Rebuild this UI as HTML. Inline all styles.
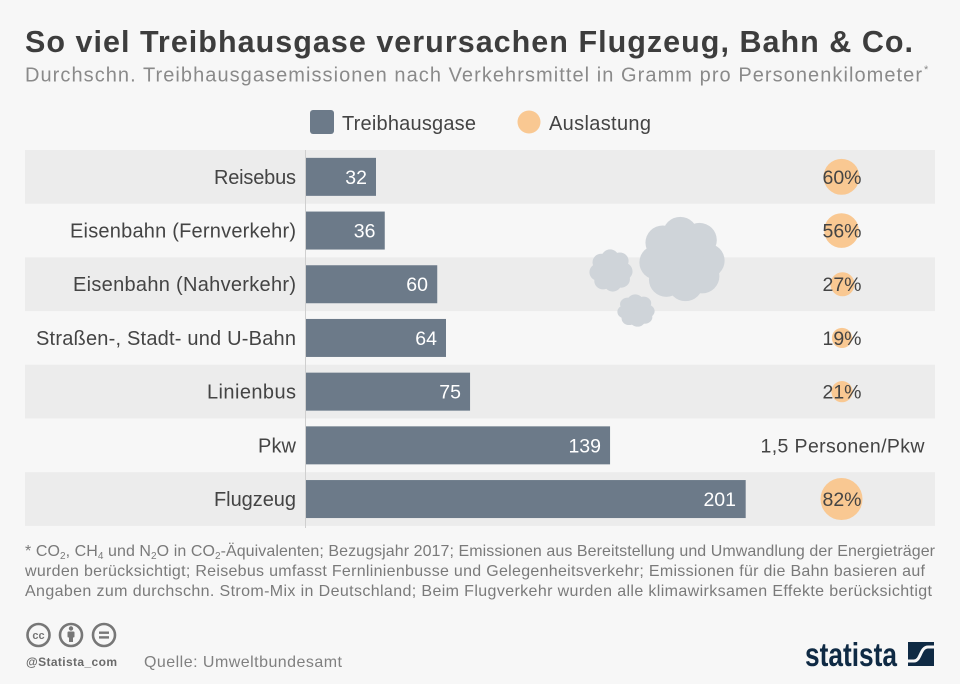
<!DOCTYPE html>
<html>
<head>
<meta charset="utf-8">
<style>
  html,body{margin:0;padding:0;background:#f7f7f7;}
  svg{display:block;}
  text{font-family:"Liberation Sans", Arial, sans-serif;}
</style>
</head>
<body>
<svg width="960" height="684" viewBox="0 0 960 684" xmlns="http://www.w3.org/2000/svg">
  <defs>
    <g id="cloud">
      <circle cx="0" cy="0" r="36"/>
      <circle cx="29" cy="2" r="20"/>
      <circle cx="20" cy="-22" r="20"/>
      <circle cx="-2" cy="-29" r="20"/>
      <circle cx="-22" cy="-19" r="20"/>
      <circle cx="-29" cy="4" r="20"/>
      <circle cx="-18" cy="24" r="20"/>
      <circle cx="4" cy="29" r="20"/>
      <circle cx="23" cy="20" r="20"/>
    </g>
  </defs>
  <rect x="0" y="0" width="960" height="684" fill="#f7f7f7"/>

  <!-- Title -->
  <text x="25" y="52" font-size="30.5" font-weight="bold" fill="#3d3d3d" textLength="888">So viel Treibhausgase verursachen Flugzeug, Bahn &amp; Co.</text>
  <text x="25" y="81.5" font-size="20" fill="#8a8a8a" textLength="897">Durchschn. Treibhausgasemissionen nach Verkehrsmittel in Gramm pro Personenkilometer</text>
  <text x="924" y="73" font-size="11" fill="#8a8a8a">*</text>

  <!-- Legend -->
  <rect x="310" y="110" width="24" height="24" rx="3" fill="#6c7a89"/>
  <text x="342" y="130" font-size="20" fill="#444" textLength="134">Treibhausgase</text>
  <circle cx="529" cy="122" r="11.5" fill="#f9c892"/>
  <text x="549" y="130" font-size="20" fill="#444" textLength="102">Auslastung</text>

  <!-- Row backgrounds -->
  <rect x="25" y="150" width="910" height="53.7" fill="#ececec"/>
  <rect x="25" y="257.4" width="910" height="53.7" fill="#ececec"/>
  <rect x="25" y="364.8" width="910" height="53.7" fill="#ececec"/>
  <rect x="25" y="472.2" width="910" height="53.7" fill="#ececec"/>

  <!-- Clouds -->
  <g fill="#cfd4d9">
    <use href="#cloud" transform="translate(682,259) scale(0.87 0.86)"/>
    <use href="#cloud" transform="translate(611,270.5) scale(0.44 0.43)"/>
    <use href="#cloud" transform="translate(636,310.5) scale(0.38 0.33)"/>
  </g>

  <!-- Axis line -->
  <line x1="305.5" y1="150" x2="305.5" y2="528" stroke="#cfcfcf" stroke-width="1"/>

  <!-- Category labels -->
  <g font-size="20" fill="#444" text-anchor="end">
    <text x="296" y="184" textLength="82">Reisebus</text>
    <text x="296" y="237.5" textLength="226">Eisenbahn (Fernverkehr)</text>
    <text x="296" y="291.2" textLength="223">Eisenbahn (Nahverkehr)</text>
    <text x="296" y="345" textLength="260">Straßen-, Stadt- und U-Bahn</text>
    <text x="296" y="398.6" textLength="89">Linienbus</text>
    <text x="296" y="452.3" textLength="38">Pkw</text>
    <text x="296" y="506" textLength="82">Flugzeug</text>
  </g>

  <!-- Bars -->
  <g fill="#6c7a89">
    <rect x="306" y="157.85" width="70" height="38"/>
    <rect x="306" y="211.55" width="78.75" height="38"/>
    <rect x="306" y="265.25" width="131.25" height="38"/>
    <rect x="306" y="318.95" width="140" height="38"/>
    <rect x="306" y="372.65" width="164.06" height="38"/>
    <rect x="306" y="426.35" width="304.06" height="38"/>
    <rect x="306" y="480.05" width="439.69" height="38"/>
  </g>
  <g font-size="19.5" fill="#ffffff" text-anchor="end">
    <text x="367" y="184">32</text>
    <text x="375.5" y="237.5">36</text>
    <text x="428" y="291.2">60</text>
    <text x="437" y="345">64</text>
    <text x="461" y="398.6">75</text>
    <text x="601" y="452.3">139</text>
    <text x="736" y="506">201</text>
  </g>

  <!-- Auslastung circles -->
  <g fill="#f9c892">
    <circle cx="841.5" cy="176.85" r="17.96"/>
    <circle cx="841.5" cy="230.55" r="17.35"/>
    <circle cx="842.5" cy="284.25" r="12.05"/>
    <circle cx="842" cy="337.95" r="10.11"/>
    <circle cx="842" cy="391.65" r="10.63"/>
    <circle cx="841.5" cy="499.05" r="21"/>
  </g>
  <g font-size="19.5" fill="#444" text-anchor="middle">
    <text x="842" y="184">60%</text>
    <text x="842" y="237.5">56%</text>
    <text x="842" y="291.2">27%</text>
    <text x="842" y="345">19%</text>
    <text x="842" y="398.6">21%</text>
    <text x="842.5" y="452.3" textLength="164">1,5 Personen/Pkw</text>
    <text x="842" y="506">82%</text>
  </g>

  <!-- Footnote -->
  <g font-size="16" fill="#7a7a7a">
    <text x="25" y="556" textLength="910">* CO<tspan font-size="10" dy="3">2</tspan><tspan dy="-3">, CH</tspan><tspan font-size="10" dy="3">4</tspan><tspan dy="-3"> und N</tspan><tspan font-size="10" dy="3">2</tspan><tspan dy="-3">O in CO</tspan><tspan font-size="10" dy="3">2</tspan><tspan dy="-3">-Äquivalenten; Bezugsjahr 2017; Emissionen aus Bereitstellung und Umwandlung der Energieträger</tspan></text>
    <text x="25" y="576" textLength="900">wurden berücksichtigt; Reisebus umfasst Fernlinienbusse und Gelegenheitsverkehr; Emissionen für die Bahn basieren auf</text>
    <text x="25" y="596" textLength="907">Angaben zum durchschn. Strom-Mix in Deutschland; Beim Flugverkehr wurden alle klimawirksamen Effekte berücksichtigt</text>
  </g>

  <!-- CC icons -->
  <g stroke="#777" stroke-width="2.6" fill="none">
    <circle cx="38.5" cy="635" r="11"/>
    <circle cx="71" cy="635" r="11"/>
    <circle cx="104" cy="635" r="11"/>
  </g>
  <text x="38.5" y="639" font-size="11" font-weight="bold" fill="#777" text-anchor="middle">cc</text>
  <g fill="#777">
    <circle cx="71" cy="628.5" r="2.2"/>
    <rect x="67.5" y="631.5" width="7" height="6" rx="1"/>
    <rect x="69" y="636" width="4" height="6"/>
    <rect x="99" y="631.5" width="10" height="2.4"/>
    <rect x="99" y="636.2" width="10" height="2.4"/>
  </g>
  <text x="26" y="666" font-size="12" font-weight="bold" fill="#6a6a6a" textLength="91">@Statista_com</text>
  <text x="144" y="667" font-size="16" fill="#808080" textLength="198">Quelle: Umweltbundesamt</text>

  <!-- statista logo -->
  <text x="805" y="666" font-size="33" font-weight="bold" fill="#0f2a44" textLength="92" lengthAdjust="spacingAndGlyphs">statista</text>
  <rect x="908" y="642" width="26" height="24" fill="#0f2a44"/>
  <path d="M908,661 L914,661 C921,661 920,647 928,647 L934,647" stroke="#f7f7f7" stroke-width="3" fill="none"/>
</svg>
</body>
</html>
